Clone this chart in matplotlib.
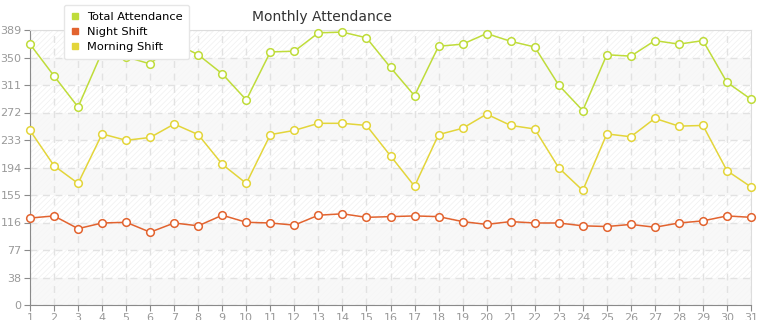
# monthly attendance line chart
import numpy as np
import matplotlib.pyplot as plt
from matplotlib.lines import Line2D
from matplotlib.patches import Rectangle

days = list(range(1, 32))
total = [369, 324, 280, 358, 351, 341, 371, 354, 327, 290, 358, 359, 385, 386, 378, 336,
         296, 366, 369, 384, 373, 365, 311, 275, 354, 352, 374, 369, 374, 315, 291]
night = [123, 126, 108, 116, 117, 103, 116, 112, 127, 117, 116, 113, 127, 129, 124, 125,
         126, 125, 118, 114, 118, 116, 116, 112, 111, 114, 110, 116, 119, 126, 124]
morning = [247, 197, 172, 242, 233, 237, 256, 241, 199, 172, 241, 247, 257, 257, 254, 211,
           168, 241, 250, 270, 254, 249, 194, 162, 242, 238, 264, 253, 254, 190, 167]
ymax = 389

c_total = '#bfdc3a'
c_night = '#e2632f'
c_morning = '#e3d53a'

plt.rcParams['hatch.linewidth'] = 0.5
plt.rcParams['font.family'] = ['DejaVu Sans']

fig = plt.figure(figsize=(7.65, 3.2), dpi=100)
ax = fig.add_axes([30 / 765, 1 - 305 / 320, 721 / 765, 275 / 320])
ax.set_xlim(1, 31)
ax.set_ylim(0, ymax)

# background: faint hatch everywhere, light bands every other interval
ax.add_patch(Rectangle((0, 0), 1, 1, transform=ax.transAxes, facecolor='white',
                       hatch='//////', edgecolor='#f0f0f0', lw=0, zorder=0))
step = ymax / 10
for i in range(0, 10, 2):
    ax.axhspan(i * step, (i + 1) * step, color='#f7f7f7', alpha=0.85, lw=0, zorder=0.5)

yt = [i * step for i in range(11)]
ax.set_yticks(yt)
ax.set_yticklabels([str(int(v)) for v in yt])
ax.set_xticks(days)
ax.grid(True, color='#e2e2e2', linestyle=(0, (5, 4)), lw=1, zorder=1)

for s in ['top', 'right']:
    ax.spines[s].set_color('#dddddd')
for s in ['left', 'bottom']:
    ax.spines[s].set_color('#8a8a8a')
ax.tick_params(colors='#8a8a8a', labelcolor='#999999', labelsize=8, length=4, pad=2)

style = dict(lw=1.1, marker='o', markersize=5.5, markerfacecolor='white',
             markeredgewidth=1.1, clip_on=False, zorder=3)
ax.plot(days, total, color=c_total, **style)
ax.plot(days, morning, color=c_morning, **style)
ax.plot(days, night, color=c_night, **style)

fig.text(322 / 765, 1 - 17 / 320, 'Monthly Attendance', ha='center', va='center',
         fontsize=10, color='#333333')

handles = [Line2D([], [], color=c, marker='s', linestyle='none', markersize=4.5)
           for c in [c_total, c_night, c_morning]]
leg = fig.legend(handles, ['Total Attendance', 'Night Shift', 'Morning Shift'],
                 loc='upper left', bbox_to_anchor=(64 / 765, 1 - 5 / 320), fontsize=8.2,
                 frameon=True, fancybox=True, edgecolor='#e6e6e6', framealpha=1,
                 handlelength=0.8, handletextpad=0.6, labelspacing=0.45,
                 borderpad=0.6, borderaxespad=0)
leg.set_zorder(10)

fig.savefig('out.png', dpi=100)
